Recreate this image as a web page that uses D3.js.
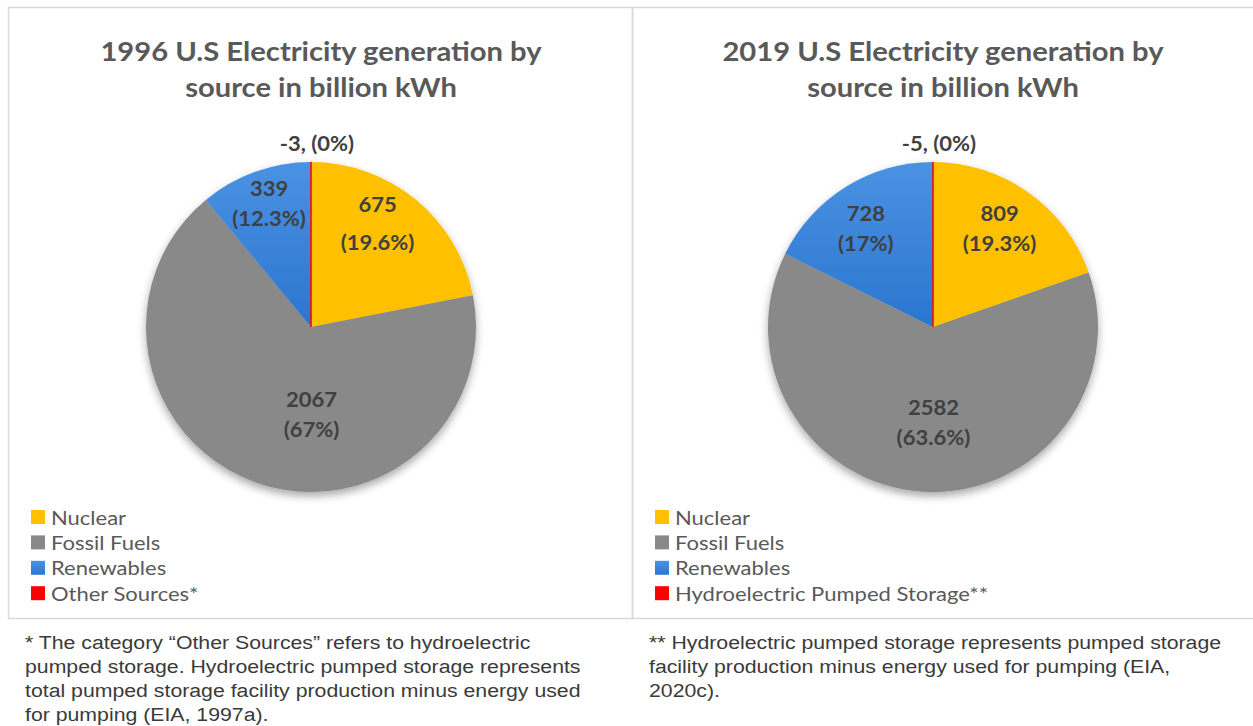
<!DOCTYPE html>
<html>
<head>
<meta charset="utf-8">
<script src="https://cdn.jsdelivr.net/npm/d3@7"></script>
<style>
  body { margin: 0; background: #fff; }
  svg { display: block; }
</style>
</head>
<body>
<div id="chart"></div>
<script>
// values
const categories1996 = ["Nuclear", "Fossil Fuels", "Renewables", "Other Sources*"];
const categories2019 = ["Nuclear", "Fossil Fuels", "Renewables", "Hydroelectric Pumped Storage**"];
const values1996 = [675, 2067, 339, -3];
const values2019 = [809, 2582, 728, -5];
const pctLabels1996 = ["19.6%", "67%", "12.3%", "0%"];
const pctLabels2019 = ["19.3%", "63.6%", "17%", "0%"];
const titles = [
  ["1996 U.S Electricity generation by", "source in billion kWh"],
  ["2019 U.S Electricity generation by", "source in billion kWh"]
];
const footnotes = [
  ["* The category \u201cOther Sources\u201d refers to hydroelectric",
   "pumped storage. Hydroelectric pumped storage represents",
   "total pumped storage facility production minus energy used",
   "for pumping (EIA, 1997a)."],
  ["** Hydroelectric pumped storage represents pumped storage",
   "facility production minus energy used for pumping (EIA,",
   "2020c)."]
];

const colors = ["#FFC000", "#898989", "url(#blueGrad)", "#FF0000"];
const legendColors = ["#FFC000", "#898989", "url(#blueGradLegend)", "#FF0000"];

const width = 1253, height = 726;
const font = "Lato, 'Noto Sans', sans-serif";

const svg = d3.select("#chart")
  .append("svg")
  .attr("width", width)
  .attr("height", height)
  .attr("viewBox", [0, 0, width, height]);

const defs = svg.append("defs");
const grad = defs.append("linearGradient")
  .attr("id", "blueGrad")
  .attr("gradientUnits", "userSpaceOnUse")
  .attr("x1", 0).attr("y1", -165).attr("x2", 0).attr("y2", 0);
grad.append("stop").attr("offset", "0%").attr("stop-color", "#4b92e3");
grad.append("stop").attr("offset", "100%").attr("stop-color", "#2a76cf");

const grad2 = defs.append("linearGradient")
  .attr("id", "blueGradLegend")
  .attr("x1", 0).attr("y1", 0).attr("x2", 0).attr("y2", 1);
grad2.append("stop").attr("offset", "0%").attr("stop-color", "#4b92e3");
grad2.append("stop").attr("offset", "100%").attr("stop-color", "#2a76cf");

const shadow = defs.append("filter")
  .attr("id", "pieShadow")
  .attr("x", "-20%").attr("y", "-20%")
  .attr("width", "140%").attr("height", "140%");
shadow.append("feDropShadow")
  .attr("dx", 0).attr("dy", 4)
  .attr("stdDeviation", 4)
  .attr("flood-color", "#000")
  .attr("flood-opacity", 0.35);

svg.append("rect")
  .attr("width", width).attr("height", height)
  .attr("fill", "#fff");

// panel geometry + Excel's hand-placed label offsets
const panels = [
  { x: 8, w: 624, cx: 311, cats: categories1996, vals: values1996, pcts: pctLabels1996,
    nudge: { "Nuclear": [-12, -7], "Fossil Fuels": [31, 3], "Renewables": [0, -7] },
    gap: { "Nuclear": 38 } },
  { x: 632, w: 630, cx: 933, cats: categories2019, vals: values2019, pcts: pctLabels2019,
    nudge: { "Nuclear": [-5, 3], "Fossil Fuels": [6, 5], "Renewables": [-2, 7] },
    gap: {} }
];
const panelTop = 7, panelBottom = 618;
const radius = 165;
const pieCy = 327;
const sx = 1.1; // reference text runs wider than Lato

const pie = d3.pie().sort(null).value(d => d.value);
const arc = d3.arc().innerRadius(0).outerRadius(radius);
const labelArc = d3.arc().innerRadius(radius * 0.75).outerRadius(radius * 0.75);
const bigArc = d3.arc().innerRadius(radius * 0.55).outerRadius(radius * 0.55);
const outerArc = d3.arc().innerRadius(radius + 18).outerRadius(radius + 18);

function wideText(parent, x, y) {
  return parent.append("text")
    .attr("transform", `translate(${x},${y}) scale(${sx},1)`);
}

panels.forEach((p, pi) => {
  const g = svg.append("g");

  g.append("rect")
    .attr("x", p.x + 0.5).attr("y", panelTop + 0.5)
    .attr("width", p.w).attr("height", panelBottom - panelTop)
    .attr("fill", "none")
    .attr("stroke", "#d9d9d9")
    .attr("stroke-width", 1.5);

  const cx = p.cx;

  // title
  const title = g.append("text")
    .attr("transform", `translate(${cx + 10},0) scale(1.08,1)`)
    .attr("text-anchor", "middle")
    .attr("font-family", font)
    .attr("font-weight", "bold")
    .attr("font-size", 27)
    .attr("fill", "#595959");
  titles[pi].forEach((t, i) => {
    title.append("tspan")
      .attr("x", 0)
      .attr("y", 61 + i * 36)
      .text(t);
  });

  const data = p.cats.map((c, i) => ({ cat: c, value: p.vals[i], pct: p.pcts[i], color: colors[i] }));
  const arcs = pie(data);

  const pg = g.append("g").attr("transform", `translate(${cx},${pieCy})`);

  pg.append("g")
    .attr("filter", "url(#pieShadow)")
    .selectAll("path")
    .data(arcs.filter(d => d.data.value > 0))
    .join("path")
    .attr("d", arc)
    .attr("fill", d => d.data.color);

  // negative slice shows up as a thin red line at the top
  pg.selectAll("path.neg")
    .data(arcs.filter(d => d.data.value <= 0))
    .join("path")
    .attr("class", "neg")
    .attr("d", arc)
    .attr("fill", "none")
    .attr("stroke", d => d.data.color)
    .attr("stroke-width", 1.5);

  // data labels
  arcs.forEach(d => {
    const nd = p.nudge[d.data.cat] || [0, 0];
    const gap = p.gap[d.data.cat] || 30;
    let x, y;
    if (d.data.value <= 0) {
      [x, y] = outerArc.centroid(d);
      x += 6;
    } else {
      const src = d.data.cat === "Fossil Fuels" ? bigArc : labelArc;
      [x, y] = src.centroid(d);
      x += nd[0]; y += nd[1];
    }
    const txt = wideText(pg, x, y)
      .attr("text-anchor", "middle")
      .attr("font-family", font)
      .attr("font-weight", "bold")
      .attr("font-size", 20)
      .attr("fill", "#404040");
    if (d.data.value <= 0) {
      txt.attr("y", 7).text(`${d.data.value}, (${d.data.pct})`);
    } else {
      txt.append("tspan").attr("x", 0).attr("y", 7 - gap / 2).text(d.data.value);
      txt.append("tspan").attr("x", 0).attr("y", 7 + gap / 2).text(`(${d.data.pct})`);
    }
  });

  // legend
  const lg = g.append("g").attr("transform", `translate(${p.x + 23},517)`);
  const rows = lg.selectAll("g")
    .data(p.cats)
    .join("g")
    .attr("transform", (d, i) => `translate(0,${i * 25.4})`);
  rows.append("rect")
    .attr("x", 0).attr("y", -7)
    .attr("width", 14).attr("height", 14)
    .attr("fill", (d, i) => legendColors[i]);
  rows.each(function(d) {
    wideText(d3.select(this), 20, 7.5)
      .attr("font-family", font)
      .attr("font-size", 20)
      .attr("fill", "#595959")
      .text(d);
  });

  // footnote
  const fn = g.append("text")
    .attr("transform", `translate(${p.x + 17},0) scale(1.12,1)`)
    .attr("font-family", "'Liberation Sans', Arial, sans-serif")
    .attr("font-size", 19)
    .attr("fill", "#3a3a3a");
  footnotes[pi].forEach((t, i) => {
    fn.append("tspan")
      .attr("x", 0)
      .attr("y", 649 + i * 24)
      .text(t);
  });
});
</script>
</body>
</html>
